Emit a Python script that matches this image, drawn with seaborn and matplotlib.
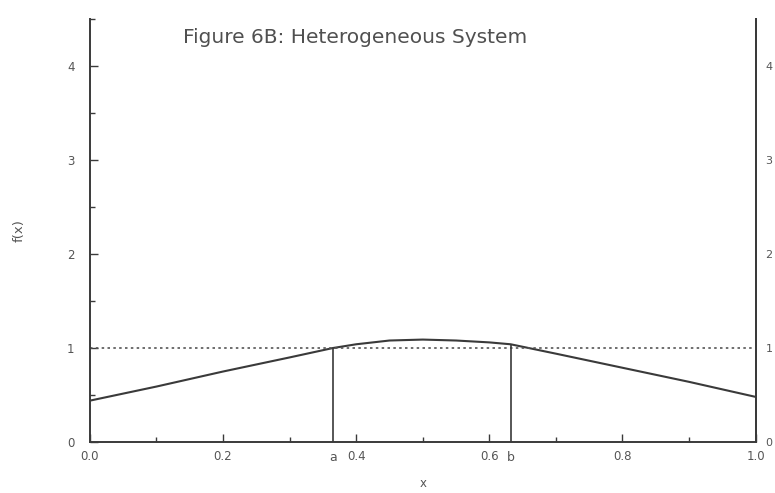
import numpy as np
import pandas as pd
import seaborn as sns
import matplotlib
matplotlib.use("Agg")
import matplotlib.pyplot as plt
from matplotlib.ticker import MultipleLocator
import matplotlib.transforms as mtransforms

# ---- data ----
x_vals = [0.0, 0.1, 0.2, 0.3, 0.365, 0.4, 0.45, 0.5, 0.55, 0.6, 0.632, 0.7, 0.8, 0.9, 1.0]
f_vals = [0.44, 0.59, 0.75, 0.90, 1.00, 1.04, 1.08, 1.09, 1.08, 1.06, 1.04, 0.94, 0.79, 0.64, 0.48]
ref_x = [0.0, 1.0]
ref_y = [1.0, 1.0]
mark_x = [0.365, 0.632]
mark_labels = ["a", "b"]
xtick_vals = [0.0, 0.2, 0.4, 0.6, 0.8, 1.0]
xtick_labels = ["0.0", "0.2", "0.4", "0.6", "0.8", "1.0"]
ytick_vals = [0, 1, 2, 3, 4]
title = "Figure 6B: Heterogeneous System"

sns.set_style("white")
plt.rcParams['font.family'] = ['DejaVu Sans']
ink = "#3a3a3a"

fig = plt.figure(figsize=(7.75, 4.93), dpi=100)
ax = fig.add_axes([0.116, 0.1035, 0.859, 0.8575])

df = pd.DataFrame({"x": x_vals, "f": f_vals})
sns.lineplot(data=df, x="x", y="f", ax=ax, color=ink, lw=1.5)
dref = pd.DataFrame({"x": ref_x, "y": ref_y})
sns.lineplot(data=dref, x="x", y="y", ax=ax, color="#555555", lw=1.2, linestyle=(0, (1.5, 2.0)))

mark_y = np.interp(mark_x, x_vals, f_vals)
ax.vlines(mark_x, 0, mark_y, color=ink, lw=1.2)

ax.set_xlim(0, 1.0)
ax.set_ylim(0, 4.5)
ax.set_xticks(xtick_vals)
ax.set_xticklabels(xtick_labels)
ax.set_yticks(ytick_vals)
ax.xaxis.set_minor_locator(MultipleLocator(0.1))
ax.yaxis.set_minor_locator(MultipleLocator(0.5))
ax.tick_params(which="major", direction="in", length=6, width=1.0, color=ink,
               labelsize=8.5, labelcolor="#555555", bottom=True, left=True)
ax.tick_params(which="minor", direction="in", length=3.5, width=1.0, color=ink, bottom=True, left=True)
ax.tick_params(axis="x", pad=6)
ax.tick_params(axis="y", pad=11)

for s in ["top"]:
    ax.spines[s].set_visible(False)
for s in ["left", "bottom", "right"]:
    ax.spines[s].set_color(ink)
    ax.spines[s].set_linewidth(1.4)

ax.set_xlabel("x", fontsize=8.5, color="#555555", labelpad=10)
ax.set_ylabel("f(x)", fontsize=9.5, color="#555555", labelpad=30)

trans = mtransforms.blended_transform_factory(ax.transData, ax.transAxes)
for mx, ml in zip(mark_x, mark_labels):
    ax.text(mx, -0.022, ml, transform=trans, ha="center", va="top", fontsize=9, color="#555555")

ax.text(0.14, 4.31, title, fontsize=14.5, color="#505050", ha="left", va="center")

ax2 = ax.twinx()
ax2.set_ylim(0, 4.5)
ax2.set_yticks(ytick_vals)
ax2.tick_params(axis="y", length=0, labelsize=8, labelcolor="#555555", pad=7)
for s in ["top", "left", "bottom"]:
    ax2.spines[s].set_visible(False)
ax2.spines["right"].set_color(ink)
ax2.spines["right"].set_linewidth(1.4)

fig.savefig("out.png", dpi=100)
